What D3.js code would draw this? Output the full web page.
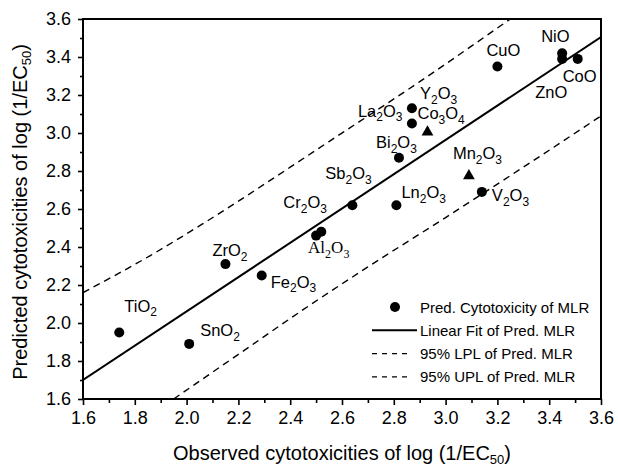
<!DOCTYPE html>
<html>
<head>
<meta charset="utf-8">
<script src="https://cdn.jsdelivr.net/npm/d3@7"></script>
<style>
  body { margin: 0; background: #fff; }
  text { font-family: "Liberation Sans", Arial, sans-serif; fill: #000; }
</style>
</head>
<body>
<div id="chart-area"></div>
<script>
/*
*    predicted vs observed cytotoxicity
*/

// Data
var names    = ["TiO2", "SnO2", "ZrO2", "Fe2O3", "Al2O3", "Cr2O3", "Sb2O3", "Ln2O3",
                "Bi2O3", "La2O3", "Y2O3", "CuO", "V2O3", "NiO", "ZnO", "CoO"];
var observed = [1.74, 2.01, 2.15, 2.29, 2.50, 2.52, 2.64, 2.81,
                2.82, 2.87, 2.87, 3.20, 3.14, 3.45, 3.45, 3.51];
var predicted = [1.95, 1.89, 2.31, 2.25, 2.46, 2.48, 2.62, 2.62,
                 2.87, 3.05, 3.13, 3.35, 2.69, 3.42, 3.39, 3.39];

// the two triangle points
var triNames = ["Co3O4", "Mn2O3"];
var triObserved = [2.93, 3.09];
var triPredicted = [3.01, 2.78];

// fit line and prediction limits
var fitX = [1.6, 3.6];
var fitY = [1.70, 3.505];
var uplX = [1.6, 1.86, 2.06, 2.4, 2.55, 2.9, 3.25];
var uplY = [2.16, 2.355, 2.52, 2.82, 2.955, 3.27, 3.6];
var lplX = [1.95, 2.2, 2.45, 2.7, 3.0, 3.3, 3.6];
var lplY = [1.6, 1.835, 2.07, 2.295, 2.555, 2.82, 3.09];

var tickValues = [1.6, 1.8, 2.0, 2.2, 2.4, 2.6, 2.8, 3.0, 3.2, 3.4, 3.6];
var minorValues = [1.7, 1.9, 2.1, 2.3, 2.5, 2.7, 2.9, 3.1, 3.3, 3.5];

var legendLabels = ["Pred. Cytotoxicity of MLR", "Linear Fit of Pred. MLR",
                    "95% LPL of Pred. MLR", "95% UPL of Pred. MLR"];

// label offsets from their point (px)
var labelOffset = {
    "TiO2": [5, -21], "SnO2": [11, -8], "ZrO2": [-13, -8], "Fe2O3": [9, 12],
    "Al2O3": [-8, 17], "Cr2O3": [-38, -24], "Sb2O3": [-27, -26], "Ln2O3": [5, -7],
    "Bi2O3": [-23, -10], "La2O3": [-54, -7], "Y2O3": [8, -9], "CuO": [-11, -11],
    "V2O3": [10, 9], "NiO": [-21, -11], "ZnO": [-27, 39], "CoO": [-15, 23],
    "Co3O4": [-10, -12], "Mn2O3": [-16, -16]
};

var margin = {top: 19, right: 17, bottom: 69, left: 83},
    width = 618 - margin.left - margin.right,
    height = 468 - margin.top - margin.bottom;

var svg = d3.select("#chart-area").append("svg")
    .attr("width", 618)
    .attr("height", 468);
var g = svg.append("g")
    .attr("transform", "translate(" + margin.left + "," + margin.top + ")");

// Scales
var x = d3.scaleLinear().domain([1.6, 3.6]).range([0, width]);
var y = d3.scaleLinear().domain([1.6, 3.6]).range([height, 0]);

// Axes
var xAxis = g.append("g")
    .attr("transform", "translate(0," + height + ")")
    .call(d3.axisBottom(x).tickValues(tickValues).tickSize(6).tickPadding(6)
        .tickFormat(d3.format(".1f")));
g.append("g")
    .attr("transform", "translate(0," + height + ")")
    .call(d3.axisBottom(x).tickValues(minorValues).tickSize(4).tickFormat(""));
var yAxis = g.append("g")
    .call(d3.axisLeft(y).tickValues(tickValues).tickSize(5).tickPadding(7)
        .tickFormat(d3.format(".1f")));
g.append("g")
    .call(d3.axisLeft(y).tickValues(minorValues).tickSize(3).tickFormat(""));

g.selectAll(".domain").remove();
g.selectAll(".tick line").attr("stroke", "#000").attr("stroke-width", 1.6);
g.selectAll(".tick text")
    .style("font-family", "'Liberation Sans', Arial, sans-serif")
    .style("font-size", "18px")
    .attr("fill", "#000");

// Frame
g.append("rect")
    .attr("width", width)
    .attr("height", height)
    .attr("fill", "none")
    .attr("stroke", "#000")
    .attr("stroke-width", 2);

// clip lines to plot
svg.append("clipPath").attr("id", "clip")
    .append("rect").attr("width", width).attr("height", height);

var line = d3.line()
    .x((d) => { return x(d[0]); })
    .y((d) => { return y(d[1]); });

var lines = g.append("g").attr("clip-path", "url(#clip)");
lines.append("path")
    .attr("d", line(d3.zip(fitX, fitY)))
    .attr("fill", "none")
    .attr("stroke", "#000")
    .attr("stroke-width", 2);
lines.append("path")
    .attr("d", line.curve(d3.curveMonotoneX)(d3.zip(uplX, uplY)))
    .attr("fill", "none")
    .attr("stroke", "#000")
    .attr("stroke-width", 1.4)
    .attr("stroke-dasharray", "7,5");
lines.append("path")
    .attr("d", line.curve(d3.curveMonotoneX)(d3.zip(lplX, lplY)))
    .attr("fill", "none")
    .attr("stroke", "#000")
    .attr("stroke-width", 1.4)
    .attr("stroke-dasharray", "7,5");

// Points
g.selectAll(".pt")
    .data(d3.range(names.length))
    .enter().append("circle")
    .attr("class", "pt")
    .attr("cx", (i) => { return x(observed[i]); })
    .attr("cy", (i) => { return y(predicted[i]); })
    .attr("r", 5)
    .attr("fill", "#000");

var tri = d3.symbol().type(d3.symbolTriangle).size(60);
g.selectAll(".tri")
    .data(d3.range(triNames.length))
    .enter().append("path")
    .attr("class", "tri")
    .attr("d", tri)
    .attr("transform", (i) => {
        return "translate(" + x(triObserved[i]) + "," + (y(triPredicted[i]) + 1) + ")";
    })
    .attr("fill", "#000");

// text with digits as subscripts
function formula(sel, txt, size) {
    var parts = txt.match(/[0-9]+|[^0-9]+/g);
    var down = false;
    parts.forEach((p) => {
        var isNum = /[0-9]/.test(p);
        var t = sel.append("tspan").text(p);
        if (isNum) {
            t.style("font-size", Math.round(size * 0.7) + "px").attr("dy", down ? 0 : size * 0.3);
            down = true;
        } else {
            t.style("font-size", size + "px").attr("dy", down ? -size * 0.3 : 0);
            down = false;
        }
    });
}

function addLabel(name, ox, oy) {
    var off = labelOffset[name];
    var t = g.append("text")
        .attr("x", x(ox) + off[0])
        .attr("y", y(oy) + off[1]);
    if (name === "Al2O3") t.style("font-family", "'Liberation Serif', 'Times New Roman', serif");
    formula(t, name, name === "Al2O3" ? 17 : 16.5);
}
names.forEach((n, i) => { addLabel(n, observed[i], predicted[i]); });
triNames.forEach((n, i) => { addLabel(n, triObserved[i], triPredicted[i]); });

// Legend
var legend = g.append("g").attr("transform", "translate(" + (372 - margin.left) + "," + (307 - margin.top) + ")");
legendLabels.forEach((lab, i) => {
    var row = legend.append("g").attr("transform", "translate(0," + (i * 23.3) + ")");
    if (i === 0) {
        row.append("circle").attr("cx", 23).attr("cy", 0).attr("r", 5).attr("fill", "#000");
    } else {
        row.append("line")
            .attr("x1", 0).attr("x2", i === 1 ? 45 : 35)
            .attr("y1", 0).attr("y2", 0)
            .attr("stroke", "#000")
            .attr("stroke-width", i === 1 ? 2 : 1.4)
            .attr("stroke-dasharray", i === 1 ? null : "5,5");
    }
    row.append("text")
        .attr("x", 48)
        .attr("y", 5.5)
        .style("font-size", "15px")
        .text(lab);
});

// Axis titles
var xt = svg.append("text")
    .attr("x", margin.left + width / 2)
    .attr("y", 460)
    .attr("text-anchor", "middle");
xt.append("tspan").style("font-size", "20px").text("Observed cytotoxicities of log (1/EC");
xt.append("tspan").style("font-size", "13px").attr("dy", 4).text("50");
xt.append("tspan").style("font-size", "20px").attr("dy", -4).text(")");

var yt = svg.append("text")
    .attr("transform", "translate(27," + (margin.top + height / 2 + 3) + ") rotate(-90)")
    .attr("text-anchor", "middle");
yt.append("tspan").style("font-size", "20px").text("Predicted cytotoxicities of log (1/EC");
yt.append("tspan").style("font-size", "13px").attr("dy", 4).text("50");
yt.append("tspan").style("font-size", "20px").attr("dy", -4).text(")");
</script>
</body>
</html>
